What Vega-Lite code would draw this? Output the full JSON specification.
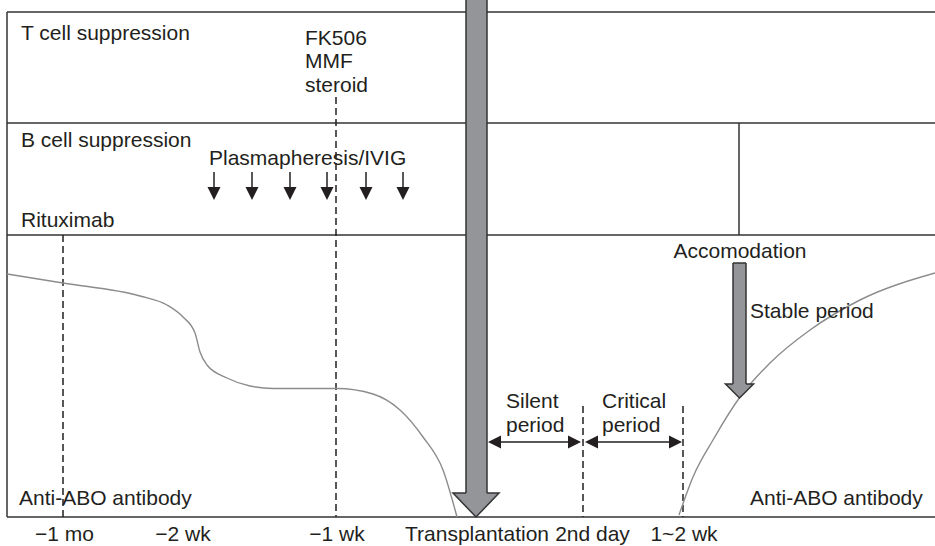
{
  "$schema": "https://vega.github.io/schema/vega-lite/v6.json",
  "width": 935,
  "height": 546,
  "autosize": "none",
  "padding": 0,
  "background": "white",
  "config": {"view": {"stroke": null}},
  "datasets": {
    "frame": [
      {"x": 7, "y": 12, "x2": 935, "y2": 12},
      {"x": 7, "y": 123, "x2": 935, "y2": 123},
      {"x": 7, "y": 235, "x2": 935, "y2": 235},
      {"x": 7, "y": 517, "x2": 935, "y2": 517},
      {"x": 7, "y": 12, "x2": 7, "y2": 517},
      {"x": 739, "y": 123, "x2": 739, "y2": 235}
    ],
    "dashed": [
      {"x": 63, "y": 235, "x2": 63, "y2": 517},
      {"x": 336, "y": 97, "x2": 336, "y2": 517},
      {"x": 583, "y": 406, "x2": 583, "y2": 517},
      {"x": 683, "y": 406, "x2": 683, "y2": 517}
    ],
    "curves": [
      {"series": "pre", "x": 7, "y": 274},
      {"series": "pre", "x": 63, "y": 283},
      {"series": "pre", "x": 140, "y": 296},
      {"series": "pre", "x": 167, "y": 305},
      {"series": "pre", "x": 183, "y": 317},
      {"series": "pre", "x": 195, "y": 333},
      {"series": "pre", "x": 200, "y": 352},
      {"series": "pre", "x": 207, "y": 365},
      {"series": "pre", "x": 227, "y": 378},
      {"series": "pre", "x": 250, "y": 386},
      {"series": "pre", "x": 273, "y": 388.5},
      {"series": "pre", "x": 337, "y": 388.5},
      {"series": "pre", "x": 373, "y": 394},
      {"series": "pre", "x": 400, "y": 410},
      {"series": "pre", "x": 423, "y": 437},
      {"series": "pre", "x": 443, "y": 470},
      {"series": "pre", "x": 457, "y": 517},
      {"series": "post", "x": 679, "y": 515},
      {"series": "post", "x": 693, "y": 477},
      {"series": "post", "x": 713, "y": 440},
      {"series": "post", "x": 740, "y": 397},
      {"series": "post", "x": 770, "y": 363},
      {"series": "post", "x": 810, "y": 330},
      {"series": "post", "x": 860, "y": 300},
      {"series": "post", "x": 935, "y": 273}
    ],
    "grayHeads": [
      {"id": "big", "x": 453, "y": 493, "y2": 493},
      {"id": "big", "x": 476, "y": 493, "y2": 517},
      {"id": "big", "x": 499, "y": 493, "y2": 493},
      {"id": "acc", "x": 725.5, "y": 384, "y2": 384},
      {"id": "acc", "x": 739.5, "y": 384, "y2": 398},
      {"id": "acc", "x": 753.5, "y": 384, "y2": 384}
    ],
    "shafts": [
      {"x": 466, "x2": 487, "y": 0, "y2": 494},
      {"x": 733, "x2": 746, "y": 263, "y2": 385}
    ],
    "shaftEdges": [
      {"x": 466, "y": 0, "x2": 466, "y2": 493},
      {"x": 487, "y": 0, "x2": 487, "y2": 493},
      {"x": 733, "y": 263, "x2": 733, "y2": 384},
      {"x": 746, "y": 263, "x2": 746, "y2": 384},
      {"x": 733, "y": 263, "x2": 746, "y2": 263}
    ],
    "blackShafts": [
      {"x": 214, "y": 172, "x2": 214, "y2": 188},
      {"x": 252, "y": 172, "x2": 252, "y2": 188},
      {"x": 290, "y": 172, "x2": 290, "y2": 188},
      {"x": 327, "y": 172, "x2": 327, "y2": 188},
      {"x": 366, "y": 172, "x2": 366, "y2": 188},
      {"x": 403, "y": 172, "x2": 403, "y2": 188},
      {"x": 500, "y": 442, "x2": 570, "y2": 442},
      {"x": 597, "y": 442, "x2": 671, "y2": 442}
    ],
    "blackHeads": [
      {"id": "p1", "x": 207.5, "y": 187, "y2": 187},
      {"id": "p1", "x": 214, "y": 187, "y2": 200},
      {"id": "p1", "x": 220.5, "y": 187, "y2": 187},
      {"id": "p2", "x": 245.5, "y": 187, "y2": 187},
      {"id": "p2", "x": 252, "y": 187, "y2": 200},
      {"id": "p2", "x": 258.5, "y": 187, "y2": 187},
      {"id": "p3", "x": 283.5, "y": 187, "y2": 187},
      {"id": "p3", "x": 290, "y": 187, "y2": 200},
      {"id": "p3", "x": 296.5, "y": 187, "y2": 187},
      {"id": "p4", "x": 320.5, "y": 187, "y2": 187},
      {"id": "p4", "x": 327, "y": 187, "y2": 200},
      {"id": "p4", "x": 333.5, "y": 187, "y2": 187},
      {"id": "p5", "x": 359.5, "y": 187, "y2": 187},
      {"id": "p5", "x": 366, "y": 187, "y2": 200},
      {"id": "p5", "x": 372.5, "y": 187, "y2": 187},
      {"id": "p6", "x": 396.5, "y": 187, "y2": 187},
      {"id": "p6", "x": 403, "y": 187, "y2": 200},
      {"id": "p6", "x": 409.5, "y": 187, "y2": 187},
      {"id": "sl", "x": 488, "y": 442, "y2": 442},
      {"id": "sl", "x": 501, "y": 435.5, "y2": 448.5},
      {"id": "sr", "x": 568, "y": 435.5, "y2": 448.5},
      {"id": "sr", "x": 581, "y": 442, "y2": 442},
      {"id": "cl", "x": 585, "y": 442, "y2": 442},
      {"id": "cl", "x": 598, "y": 435.5, "y2": 448.5},
      {"id": "cr", "x": 669, "y": 435.5, "y2": 448.5},
      {"id": "cr", "x": 682, "y": 442, "y2": 442}
    ],
    "leftText": [
      {"x": 21, "y": 40, "label": "T cell suppression"},
      {"x": 305, "y": 45, "label": "FK506"},
      {"x": 305, "y": 68, "label": "MMF"},
      {"x": 305, "y": 91.5, "label": "steroid"},
      {"x": 21, "y": 147, "label": "B cell suppression"},
      {"x": 209, "y": 165, "label": "Plasmapheresis/IVIG"},
      {"x": 21, "y": 227, "label": "Rituximab"},
      {"x": 19, "y": 505, "label": "Anti-ABO antibody"},
      {"x": 750, "y": 505, "label": "Anti-ABO antibody"},
      {"x": 750, "y": 318, "label": "Stable period"},
      {"x": 506, "y": 407.5, "label": "Silent"},
      {"x": 506, "y": 432, "label": "period"},
      {"x": 602, "y": 407.5, "label": "Critical"},
      {"x": 602, "y": 432, "label": "period"}
    ],
    "centerText": [
      {"x": 740, "y": 258, "label": "Accomodation"},
      {"x": 64.5, "y": 541, "label": "−1 mo"},
      {"x": 183, "y": 541, "label": "−2 wk"},
      {"x": 337, "y": 541, "label": "−1 wk"},
      {"x": 477, "y": 541, "label": "Transplantation"},
      {"x": 592.5, "y": 541, "label": "2nd day"},
      {"x": 684, "y": 541, "label": "1~2 wk"}
    ]
  },
  "encoding": {
    "x": {"field": "x", "type": "quantitative", "scale": {"domain": [0, 935], "nice": false, "zero": false}, "axis": null},
    "y": {"field": "y", "type": "quantitative", "scale": {"domain": [0, 546], "nice": false, "zero": false, "reverse": true}, "axis": null}
  },
  "layer": [
    {
      "data": {"name": "frame"},
      "mark": {"type": "rule", "color": "#333333", "strokeWidth": 1.5},
      "encoding": {"x2": {"field": "x2"}, "y2": {"field": "y2"}}
    },
    {
      "data": {"name": "dashed"},
      "mark": {"type": "rule", "color": "#231f20", "strokeWidth": 1.5, "strokeDash": [7, 4]},
      "encoding": {"x2": {"field": "x2"}, "y2": {"field": "y2"}}
    },
    {
      "data": {"name": "curves"},
      "mark": {"type": "line", "color": "#8c8c8c", "strokeWidth": 1.4, "interpolate": "monotone"},
      "encoding": {"detail": {"field": "series"}}
    },
    {
      "data": {"name": "grayHeads"},
      "mark": {"type": "area", "orient": "vertical", "fill": "#939598", "stroke": "#333333", "strokeWidth": 1.5, "opacity": 1, "fillOpacity": 1},
      "encoding": {"y2": {"field": "y2"}, "detail": {"field": "id"}}
    },
    {
      "data": {"name": "shafts"},
      "mark": {"type": "rect", "fill": "#939598", "opacity": 1},
      "encoding": {"x2": {"field": "x2"}, "y2": {"field": "y2"}}
    },
    {
      "data": {"name": "shaftEdges"},
      "mark": {"type": "rule", "color": "#333333", "strokeWidth": 1.5},
      "encoding": {"x2": {"field": "x2"}, "y2": {"field": "y2"}}
    },
    {
      "data": {"name": "blackShafts"},
      "mark": {"type": "rule", "color": "#231f20", "strokeWidth": 1.5},
      "encoding": {"x2": {"field": "x2"}, "y2": {"field": "y2"}}
    },
    {
      "data": {"name": "blackHeads"},
      "mark": {"type": "area", "orient": "vertical", "fill": "#231f20", "opacity": 1, "fillOpacity": 1},
      "encoding": {"y2": {"field": "y2"}, "detail": {"field": "id"}}
    },
    {
      "data": {"name": "leftText"},
      "mark": {"type": "text", "align": "left", "baseline": "alphabetic", "font": "Liberation Sans", "fontSize": 21, "color": "#231f20"},
      "encoding": {"text": {"field": "label"}}
    },
    {
      "data": {"name": "centerText"},
      "mark": {"type": "text", "align": "center", "baseline": "alphabetic", "font": "Liberation Sans", "fontSize": 21, "color": "#231f20"},
      "encoding": {"text": {"field": "label"}}
    }
  ]
}
